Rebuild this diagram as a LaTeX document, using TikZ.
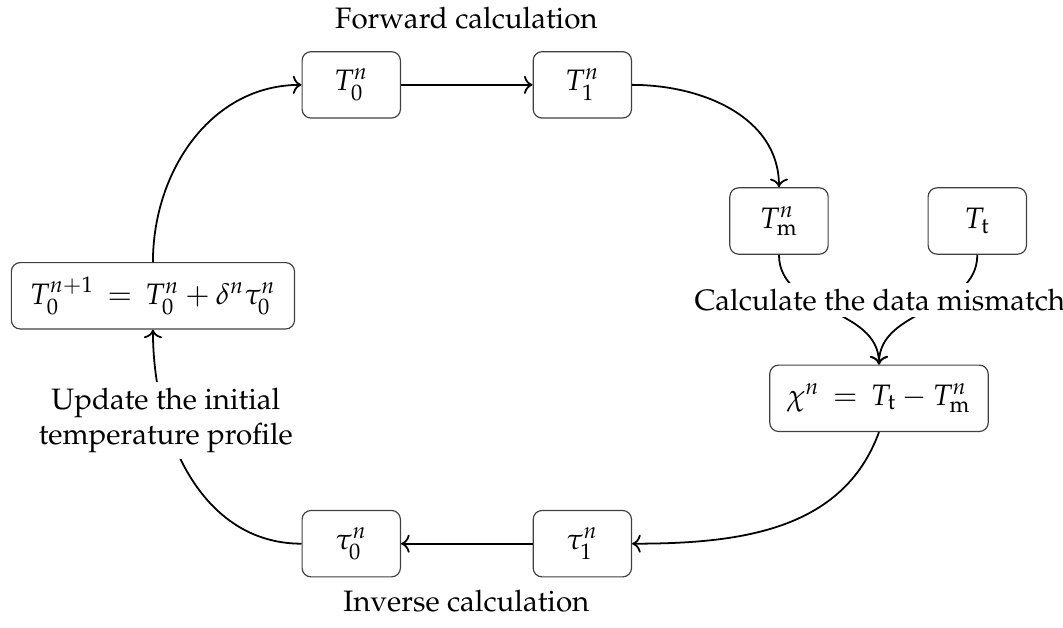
\documentclass[tikz,border=0pt]{standalone}
\usepackage{amsmath}
\usepackage[T1]{fontenc}
\usepackage{mathpazo}
\usetikzlibrary{arrows.meta, positioning, calc}
\tikzset{
  box/.style={draw=black!75, rounded corners=3pt, line width=0.4pt,
    minimum width=1.17cm, minimum height=0.79cm},
  flow/.style={->, semithick},
  note/.style={fill=white, inner sep=2pt, align=center}
}

\begin{document}
\begin{tikzpicture}
  \useasboundingbox (0,0) rectangle (12.65,7.47);
  % forward row
  \node[box] (T0) at (4.18,6.46) {$T_0^n$};
  \node[box] (T1) at (6.93,6.46) {$T_1^n$};
  \node at (5.55,7.26) (fwd) {Forward calculation};
  % measured and target
  \node[box] (Tm) at (9.27,4.84) {$T_\mathrm{m}^n$};
  \node[box] (Tt) at (11.63,4.84) {$T_\mathrm{t}$};
  \node[box, minimum width=2.6cm] (chi) at (10.46,2.73) {$\chi^n \,=\, T_\mathrm{t} - T_\mathrm{m}^n$};
  % inverse row
  \node[box] (tau1) at (6.93,1.00) {$\tau_1^n$};
  \node[box] (tau0) at (4.18,1.00) {$\tau_0^n$};
  \node at (5.55,0.32) (inv) {Inverse calculation};
  % update
  \node[box, minimum width=3.37cm] (upd) at (1.82,3.95) {$T_0^{n+1} \,=\, T_0^n + \delta^n\tau_0^n$};
  % connectors
  \draw[flow] (T0) -- (T1);
  \draw[flow] (T1.east) to[out=0,in=90] (Tm.north);
  \draw[flow] (Tm.south) to[out=-90,in=90] (chi.north);
  \draw[flow] (Tt.south) to[out=-90,in=90] (chi.north);
  \node[note] (mis) at (10.47,3.90) {Calculate the data mismatch};
  \draw[flow] (chi.south) to[out=-110,in=0] (tau1.east);
  \draw[flow] (tau1) -- (tau0);
  \draw[flow] (tau0.west) to[out=180,in=-90]
    node[note, pos=0.7] (upnote) {Update the initial\\temperature profile} (upd.south);
  \draw[flow] (upd.north) to[out=90,in=180] (T0.west);
\end{tikzpicture}
\end{document}
